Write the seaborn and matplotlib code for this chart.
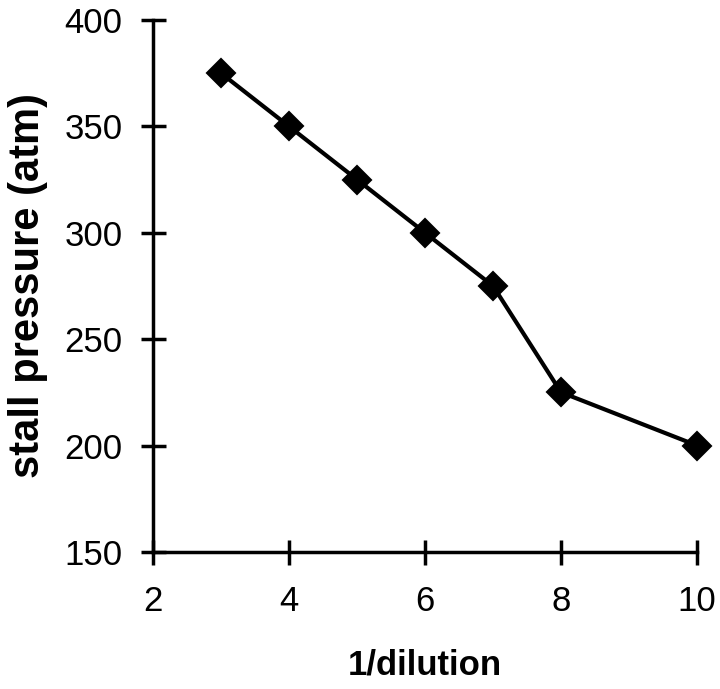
import matplotlib
matplotlib.use("Agg")
import matplotlib.pyplot as plt
import seaborn as sns
import pandas as pd

# values
inv_dilution = [3, 4, 5, 6, 7, 8, 10]
stall_pressure = [375, 350, 325, 300, 275, 225, 200]

df = pd.DataFrame({"x": inv_dilution, "y": stall_pressure})

sns.set_style("ticks")
plt.rcParams["font.family"] = ["Liberation Sans", "DejaVu Sans"]
plt.rcParams["text.color"] = "black"
plt.rcParams["axes.labelcolor"] = "black"

fig = plt.figure(figsize=(7.2, 6.89), dpi=100)
ax = fig.add_axes([0.2125, 0.199, 0.7556, 0.772])

sns.lineplot(
    data=df,
    x="x",
    y="y",
    color="black",
    linewidth=3,
    marker="D",
    markersize=14,
    markeredgecolor="black",
    markeredgewidth=1.5,
    clip_on=False,
    ax=ax
)

ax.set_xlim(2, 10)
ax.set_ylim(150, 400)
ax.set_xticks([2, 4, 6, 8, 10])
ax.set_yticks([150, 200, 250, 300, 350, 400])

for side in ["top", "right"]:
    ax.spines[side].set_visible(False)
for side in ["left", "bottom"]:
    ax.spines[side].set_linewidth(2.5)
    ax.spines[side].set_color("black")

ax.tick_params(direction="inout", length=18, width=2.5, labelsize=25,
               colors="black")
ax.tick_params(axis="x", pad=15)
ax.tick_params(axis="y", pad=13)

ax.set_xlabel("1/dilution", fontsize=25, fontweight="bold", labelpad=22)
ax.set_ylabel("stall pressure (atm)", fontsize=30, fontweight="bold", labelpad=12)

fig.savefig("out.png", dpi=100)
